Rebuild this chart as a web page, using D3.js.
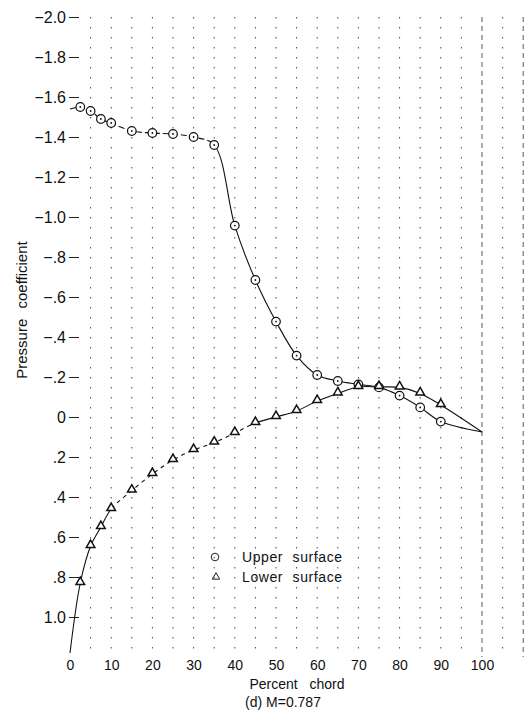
<!DOCTYPE html>
<html>
<head>
<meta charset="utf-8">
<script src="https://cdn.jsdelivr.net/npm/d3@7"></script>
<style>
  html, body { margin: 0; padding: 0; background: #fff; }
  svg { display: block; }
  text { font-family: "Liberation Sans", Arial, sans-serif; fill: #111; }
</style>
</head>
<body>
<svg id="chart" width="525" height="712"></svg>
<script>
// ---- data (percent chord, pressure coefficient) ----
const upperX  = [2.5, 5, 7.5, 10, 15, 20, 25, 30, 35, 40, 45, 50, 55, 60, 65, 70, 75, 80, 85, 90];
const upperCp = [-1.55, -1.53, -1.49, -1.47, -1.43, -1.42, -1.415, -1.40, -1.36, -0.957, -0.685, -0.477, -0.307, -0.21, -0.18, -0.163, -0.148, -0.107, -0.048, 0.023];
const lowerX  = [2.5, 5, 7.5, 10, 15, 20, 25, 30, 35, 40, 45, 50, 55, 60, 65, 70, 75, 80, 85, 90];
const lowerCp = [0.83, 0.645, 0.55, 0.46, 0.368, 0.285, 0.215, 0.165, 0.128, 0.08, 0.03, 0.0, -0.03, -0.08, -0.118, -0.15, -0.15, -0.148, -0.118, -0.06];
// faired-curve end points (leading edge, trailing edge)
const upperLeX = 0,   upperLeCp = -1.54;
const lowerLeX = 0,   lowerLeCp = 1.18;
const teX = 100,      teCp = 0.075;

const xTicks = [0, 10, 20, 30, 40, 50, 60, 70, 80, 90, 100];
const xTickLabels = ["0", "10", "20", "30", "40", "50", "60", "70", "80", "90", "100"];
const yTicks = [-2.0, -1.8, -1.6, -1.4, -1.2, -1.0, -0.8, -0.6, -0.4, -0.2, 0, 0.2, 0.4, 0.6, 0.8, 1.0];
const yTickLabels = ["\u22122.0", "\u22121.8", "\u22121.6", "\u22121.4", "\u22121.2", "\u22121.0", "\u2212.8", "\u2212.6", "\u2212.4", "\u2212.2", "0", ".2", ".4", ".6", ".8", "1.0"];
const gridX = d3.range(5, 111, 5);

const svg = d3.select("#chart");
const x = d3.scaleLinear().domain([0, 100]).range([70, 482]);
const y = d3.scaleLinear().domain([-2, 1]).range([17, 617]);

// ---- grid (dotted verticals, graph-paper remnants) ----
const grid = svg.append("g");
grid.selectAll("line.v").data(gridX).join("line")
  .attr("x1", d => x(d)).attr("x2", d => x(d))
  .attr("y1", y(-2.0)).attr("y2", y(1.2))
  .attr("stroke", d => (d === 100 || d === 110) ? "#444" : "#333")
  .attr("stroke-width", 0.9)
  .attr("stroke-dasharray", d => (d === 100 || d === 110) ? "5,4" : "1.5,8.5");

// ---- axes ----
const yAxis = d3.axisLeft(y).tickValues(yTicks)
  .tickFormat((d, i) => yTickLabels[i]).tickSize(-10).tickPadding(3);
const gy = svg.append("g").attr("transform", "translate(69,0)").call(yAxis);
gy.select(".domain").remove();
gy.selectAll("line").attr("stroke", "#222").attr("stroke-width", 1);
gy.selectAll("text").style("font-size", "16px").style("font-family", "'Liberation Sans', Arial, sans-serif").attr("fill", "#111");

const xAxis = d3.axisBottom(x).tickValues(xTicks)
  .tickFormat((d, i) => xTickLabels[i]).tickSize(0).tickPadding(0);
const gx = svg.append("g").attr("transform", "translate(0,660)").call(xAxis);
gx.select(".domain").remove();
gx.selectAll("text").style("font-size", "14px").style("font-family", "'Liberation Sans', Arial, sans-serif").attr("fill", "#111");

// ---- curves (solid / dashed portions via clip regions) ----
const defs = svg.append("defs");
function clip(id, x0, x1) {
  defs.append("clipPath").attr("id", id).append("rect")
    .attr("x", x0).attr("y", 0).attr("width", x1 - x0).attr("height", 712);
}
clip("upDash", 0, x(35));
clip("upSolid", x(35), 525);
clip("loSolidA", 0, x(10));
clip("loDash", x(10), x(45));
clip("loSolidB", x(45), 525);

const upperLine = [[upperLeX, upperLeCp]].concat(upperX.map((v, i) => [v, upperCp[i]])).concat([[teX, teCp]]);
const lowerLine = [[lowerLeX, lowerLeCp]].concat(lowerX.map((v, i) => [v, lowerCp[i]])).concat([[teX, teCp]]);
const line = d3.line().x(d => x(d[0])).y(d => y(d[1])).curve(d3.curveCatmullRom.alpha(0.5));

function drawCurve(data, clipId, dash) {
  svg.append("path").datum(data).attr("d", line)
    .attr("clip-path", `url(#${clipId})`)
    .attr("fill", "none").attr("stroke", "#111").attr("stroke-width", 1.1)
    .attr("stroke-dasharray", dash);
}
drawCurve(upperLine, "upDash", "6,3");
drawCurve(upperLine, "upSolid", null);
drawCurve(lowerLine, "loSolidA", null);
drawCurve(lowerLine, "loDash", "4,4");
drawCurve(lowerLine, "loSolidB", null);

// ---- markers ----
const up = svg.append("g").selectAll("g").data(upperX.map((v, i) => [v, upperCp[i]])).join("g")
  .attr("transform", d => `translate(${x(d[0])},${y(d[1])})`);
up.append("circle").attr("r", 4.3)
  .attr("fill", "#fff").attr("stroke", "#111").attr("stroke-width", 1.2);
up.append("circle").attr("r", 0.9).attr("fill", "#111");
const tri = d3.symbol().type(d3.symbolTriangle).size(32);
svg.append("g").selectAll("path").data(lowerX.map((v, i) => [v, lowerCp[i]])).join("path")
  .attr("d", tri)
  .attr("transform", d => `translate(${x(d[0])},${y(d[1]) - 1})`)
  .attr("fill", "#fff").attr("stroke", "#111").attr("stroke-width", 1.5);

// ---- legend ----
const lg = svg.append("g");
lg.append("circle").attr("cx", 215).attr("cy", 557).attr("r", 3.8)
  .attr("fill", "none").attr("stroke", "#222").attr("stroke-width", 1);
lg.append("path").attr("d", d3.symbol().type(d3.symbolTriangle).size(24))
  .attr("transform", "translate(216,577)").attr("fill", "none").attr("stroke", "#222").attr("stroke-width", 1);
lg.append("text").attr("x", 242).attr("y", 562).style("font-size", "14px")
  .style("letter-spacing", "0.6px").style("word-spacing", "5px").text("Upper surface");
lg.append("text").attr("x", 242).attr("y", 582).style("font-size", "14px")
  .style("letter-spacing", "0.6px").style("word-spacing", "5px").text("Lower surface");

// ---- titles ----
svg.append("text").attr("transform", "translate(27,310) rotate(-90)")
  .attr("text-anchor", "middle").style("font-size", "15px").style("word-spacing", "6px")
  .text("Pressure coefficient");
svg.append("text").attr("x", 297).attr("y", 689).attr("text-anchor", "middle")
  .style("font-size", "14px").style("word-spacing", "8px").text("Percent chord");
svg.append("text").attr("x", 283).attr("y", 707).attr("text-anchor", "middle")
  .style("font-size", "14px").text("(d) M=0.787");
</script>
</body>
</html>
